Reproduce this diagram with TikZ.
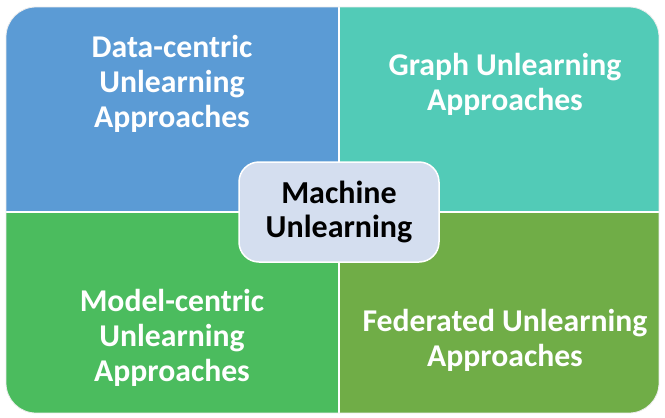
\documentclass[tikz,border=0pt]{standalone}
\usepackage{fontspec}
\setmainfont{Carlito}
\definecolor{qblue}{HTML}{5B9BD5}
\definecolor{qteal}{HTML}{52CBB7}
\definecolor{qgreen}{HTML}{4BBC5E}
\definecolor{qolive}{HTML}{70AD47}
\definecolor{cfill}{HTML}{D4DEEF}
\begin{document}
\begin{tikzpicture}[x=1pt,y=-1pt,
  qtext/.style={text=white,font=\fontsize{31.7}{35}\selectfont\bfseries,align=center},
  ctext/.style={text=black,font=\fontsize{32}{34}\selectfont\bfseries,align=center}]
\useasboundingbox (0,0) rectangle (665,418);
\begin{scope}
\clip[rounded corners=30pt] (6,7) rectangle (659,413);
\fill[qblue] (6,7) rectangle (339,212);
\fill[qteal] (339,7) rectangle (659,212);
\fill[qgreen] (6,212) rectangle (339,413);
\fill[qolive] (339,212) rectangle (659,413);
\draw[white,line width=2pt] (339,7) -- (339,413);
\draw[white,line width=2pt] (6,212) -- (659,212);
\end{scope}
\draw[white!85!gray,line width=0.8pt,rounded corners=30pt] (6,7) rectangle (659,413);
\node[qtext] (tl) at (172,84) {Data-centric\\Unlearning\\Approaches};
\node[qtext] (tr) at (505,84) {Graph Unlearning\\Approaches};
\node[qtext] (bl) at (172,338) {Model-centric\\Unlearning\\Approaches};
\node[qtext] (br) at (505,340) {Federated Unlearning\\Approaches};
\draw[white,line width=1.5pt,fill=cfill,rounded corners=20pt] (239,162) rectangle (439,262);
\node[ctext] (c) at (339,212) {Machine\\Unlearning};
\end{tikzpicture}
\end{document}
